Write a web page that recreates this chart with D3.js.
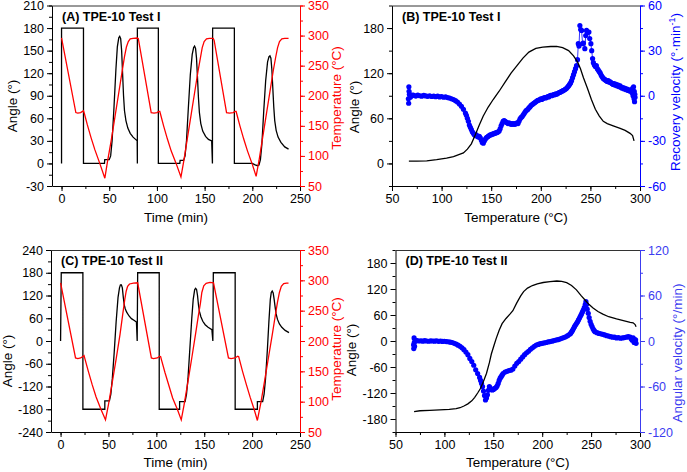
<!DOCTYPE html>
<html><head><meta charset="utf-8">
<script src="https://cdn.jsdelivr.net/npm/d3@7"></script>
<style>
body{margin:0;background:#fff}
svg{display:block}
text{font-family:"Liberation Sans",Arial,sans-serif}
</style>
</head><body>
<svg id="c" width="687" height="472"></svg>
<script>
// ---------- Panel A : angle & temperature vs time (Test I) ----------
const aTimeAngle = [0,0,23,23,45,45.3,50,51.5,53,55,57,58.5,60,61,62,63,64,65,66,67.5,69.5,72,75,78.5,79.3,79.5,79.5,101.5,101.5,124,124.3,128,129.5,131,133,135,137,138.5,139.5,140.5,141.5,142.5,143.5,144.5,146,148,151,154,157.4,158.2,158.4,181.2,181.2,200,203,205.5,207,208.5,210,212,214,216,217.5,218.5,219.5,220.5,221.5,222.5,223.5,225,227,230,234,238];
const aAngle     = [0,180,180,0,0,5,5,10,30,75,125,155,167,169,166,150,120,90,70,57,47,40,35,31,30,0,180,180,0,0,4,4,10,30,75,118,145,154,156,153,140,115,88,68,53,43,36,32,30,0,180,180,0,0,-2,-3,-2,5,25,70,110,135,142,143,140,125,100,75,57,44,35,28,22,19];
const aTimeTemp  = [0,15,17,20,22,23,24,27,31,35,40,45.4,48,52,56,60,63,66,68,70,72,75,79.5,80.5,94,97,100,102,103,104,107,111,115,120,125.2,128,132,136,140,143,145.5,147.5,149.5,152,155,159,160,173,176,180,182,183,184,187,191,195,200,204,207,211,215,219,222,224.5,226.5,228.5,231,234,238];
const aTemp      = [296,172,171,172,174,175,170,152,130,110,88,63,89,125,165,205,235,265,281,290,294.5,295.5,296,295,172,171,172,174,174,168,150,128,108,88,65,90,130,170,210,240,262,280,290,294.5,295.5,295.5,292,172,171,172,174,174,168,150,128,108,86,66,92,132,172,212,242,264,280,290,294.5,295.5,295.5];

// ---------- Panel C : angle & temperature vs time (Test II) ----------
const cTimeAngle = [0,0.7,23.3,23.3,46.2,46.2,51,52.5,54,56,58,60,61.5,62.5,63.5,64.5,65.5,66.5,67.5,69,71.5,74,77,79.2,80,80.5,103,103,124.3,124.3,130,131.5,133,135,137,138.5,140,141,142,143,144,145,146.5,148.5,151,154,158,159,159.5,182.3,182.3,205.5,205.5,211,212.5,214,216,217.5,219,220,221,222,223,224,225,226.5,228.5,231,234.5,238.5];
const cAngle     = [0,180,180,-180,-180,-158,-158,-140,-100,-30,50,115,140,148,148,140,115,95,85,76,66,59,54,50,0,180,180,-180,-180,-160,-160,-140,-100,-20,60,110,135,139,136,120,95,78,64,52,43,36,30,0,180,180,-180,-180,-160,-160,-140,-100,-20,50,110,128,132,127,110,90,72,57,45,36,28,22];
const cTimeTemp  = [0,15.6,18,21,23.5,24.5,25.5,29,33,37,42,46.9,50,54,58,62,65,67,68.5,70,72,76,80.5,94.8,97,101,103.5,104.5,105.5,109,113,117,122,126,129,133,137,141,144,146,147.5,149.5,152,156,159.7,175.3,178,182,185,186,187,190,194,198,202,205.5,209,213,217,221,224,226.5,228.5,230.5,233,236,238];
const cTemp      = [296,172,171,172,175,176,170,150,128,108,88,70,95,132,170,210,245,268,282,290,294,295.5,296,172,171,172,175,174,168,148,127,106,87,70,95,133,172,212,243,262,280,291,295,296.5,296,172,171,172,175,174,168,150,128,107,88,69,97,134,172,210,240,264,280,290,294.5,295.5,295.5];

// ---------- Panel B : angle & recovery velocity vs temperature (Test I) ----------
const bTempAngle = [67,75,85,95,105,112,118,122,126,130,134,138,142,147,152,158,164,170,176,182,188,195,202,210,216,222,228,233,237,240,243,247,251,255,259,263,267,273,280,285,290,292.5,294];
const bAngle     = [3,3,3.5,5,7,9,12,14,19,26,38,51,63,75,85,96,108,120,130,140,148,153,154.7,155.5,155.6,154,150,143,135,126,114,100,85,72,63,56,53,50,46.5,44,40,37,30];
const bTempVel = [66.5,66.8,67,67.2,67.5,68,68.5,69,70,71,72,74,76,78,80,82,84,86,88,90,92,94,96,98,100,102,104,106,108,110,112,114,116,118,120,122,124,125,126,127,128,129,130,131,132,133,134,135,136,137,138,139,140,141,142,143,144,145,146,147,148,149,150,151,152,153,154,155,156,157,158,159,160,161,162,163,164,165,166,167,168,169,170,171,172,173,174,175,176,177,178,179,180,181,182,183,184,185,186,187,188,189,190,191,192,193,194,195,196,197,198,199,200,201,202,203,204,205,206,207,208,209,210,211,212,213,214,215,216,217,218,219,220,221,222,223,224,225,226,227,228,229,230,231,232,233,234,235,236,237,237.8,238.5,239.4,240.2,241.1,242.1,243,244.4,245.3,246.1,247,248.5,249.3,250.5,251.3,252.2,253,254,255,256,257,258,259,260,261,262,263,264,265,266,267,268,269,270,271,272,273,274,275,276,277,278,279,280,281,282,283,284,285,286,287,288,289,290,291,292,292.5,293,293.5,294,294.2,294.5,294.8,295];
const bVel     = [-2,-5,6,3,1,0.5,-1,0.5,0,0.5,0.3,-0.2,0.4,0,-0.3,0.2,-0.1,-0.4,0,-0.5,-0.2,-0.6,-0.3,-0.8,-0.5,-1,-0.7,-1.2,-1.5,-2,-2.5,-3.3,-4.2,-5.5,-7,-9,-11.5,-13,-15,-17,-19.5,-21,-22.5,-24,-25,-26,-26.5,-26,-27,-27.5,-27,-28,-29.5,-31,-31.5,-30,-29,-28,-27.5,-27,-26.5,-26,-26,-25.5,-25.5,-25,-25,-24.5,-24.5,-24,-23.5,-22,-20,-18.5,-17,-16.5,-17,-17.5,-18,-18.5,-18,-18.5,-19,-18.5,-19,-18.5,-19,-18.5,-18,-18.5,-17,-15.5,-14.5,-14,-13,-12,-11,-10,-9.5,-9,-8,-7.5,-6.5,-6,-5.5,-5,-4.5,-4,-3.5,-3,-3,-2.5,-2,-2.5,-1.8,-1.5,-1.2,-1.5,-1,-0.5,-0.8,0,0.3,0,0.5,0.8,0.6,1.2,1,1.5,2,2.2,2.5,3,3.2,3.6,4,4.5,5,5.8,6.5,7.5,8.5,10,12,14,16,18,20,24,34.6,33,46.7,44,43.4,34.6,35,31.3,40,43.4,42,42.3,38,34.6,30,24.7,22,20.5,19.5,20,18,17,16,15,13.5,12.5,11.5,11,10.5,10,9.5,10,9,9.2,8.5,8,7.5,8,7,7.5,6.5,7,6,6.5,5.5,5,5.5,4.5,5,4,4.5,3.5,4,3,3.5,2,5,0,6,-2,3,-4,1,-1];

// ---------- Panel D : angle & angular velocity vs temperature (Test II) ----------
const dTempAngle = [69,75,85,95,105,112,116,120,124,128,131,134,137,140,143,146,148,151,153,156,159,163,167,170,174,178,181,185,190,195,201,208,215,220,225,230,235,240,244,248,252,257,262,268,276,283,290,293,295,296];
const dAngle     = [-163,-161,-160,-159,-158,-156,-154,-150,-145,-138,-130,-120,-109,-93,-75,-50,-30,-8,6,25,40,52,62,70,88,104,114,122,128,132,135,137,138.5,137.5,134.5,128,118,104,94,84,76,68,62,56,51,47,43,42,38,33];
const dTempVel = [68.5,68.7,69,69.2,69.5,70,71,72,74,76,78,80,82,84,86,88,90,92,94,96,98,100,102,104,106,108,110,112,114,116,118,120,122,124,126,128,130,132,134,136,137,138,139,140,141,142,143,144,145,146,147,148,149,150,151,152,153,154,155,156,157,158,159,160,162,164,166,168,170,172,174,176,178,180,182,184,186,188,190,192,194,196,198,200,202,204,206,208,210,212,214,216,218,220,222,224,226,228,229,230,231,232,233,234,235,236,237,238,239,240,241,242,243,244,244.7,245.3,246,247.1,248,249,250,251,252,253,254,256,258,260,262,264,266,268,270,272,274,276,278,280,282,284,286,288,290,291,292,293,294,294.5,295,295.5,296];
const dVel     = [-5,-10,4,-2,-7,0,0.5,0.5,0,0.3,-0.2,0.4,0,-0.3,0.2,0,-0.2,0.3,-0.4,0,-0.5,-0.3,-0.8,-1,-1.5,-2,-3,-4,-5.5,-7,-9,-11.5,-14.5,-18,-23,-27,-32,-38,-43,-48,-52,-56,-60,-66,-72,-77.8,-75,-71,-65,-60,-62,-64,-64.6,-64,-63,-62,-61,-59,-56,-52,-49,-47,-45,-43,-41,-40,-39,-38.5,-37,-33,-29.5,-27,-24,-21,-18,-15.5,-13.5,-11,-9,-7,-5.3,-4.5,-3.5,-3,-2.5,-2,-1.2,-0.8,-0.2,0.5,1.2,1.8,2.5,3.5,4.5,5.5,7,8.8,10,12,14,16.5,18.9,21,23,25,27.5,29.9,32.5,35,38,40.9,44,48,51.8,48,42,36.5,31,26,22,19,16,14,12.3,11,10,9.5,8.8,8,7,6.5,5.7,5,5,4,4.5,3.6,4,4.5,5,5.7,5,3,1,4,-2,2,-1,1.5,-3];

// ---------- Tick values ----------
const timeTicks   = [0,50,100,150,200,250];
const aAngleTicks = [-30,0,30,60,90,120,150,180,210];
const cAngleTicks = [-240,-180,-120,-60,0,60,120,180,240];
const tempTicks   = [50,100,150,200,250,300,350];
const tempXTicks  = [50,100,150,200,250,300];
const bAngleTicks = [0,60,120,180];
const bVelTicks   = [-60,-30,0,30,60];
const dAngleTicks = [-180,-120,-60,0,60,120,180];
const dVelTicks   = [-120,-60,0,60,120];

const svg = d3.select('#c');
const fmt = d => String(d);

function range(a,b,s){const r=[];for(let v=a;v<=b+1e-9;v+=s)r.push(+v.toFixed(6));return r;}

function panel(o){
  const g = svg.append('g');
  const x = d3.scaleLinear().domain(o.xDom).range([o.l,o.r]);
  const yl = d3.scaleLinear().domain(o.ylDom).range([o.b,o.t]);
  const yr = d3.scaleLinear().domain(o.yrDom).range([o.b,o.t]);
  const clipId = 'clip'+o.id;
  g.append('clipPath').attr('id',clipId).append('rect')
    .attr('x',o.l).attr('y',o.t).attr('width',o.r-o.l).attr('height',o.b-o.t);

  function axis(gen, scale, major, minor, transform, color){
    const gm = g.append('g').attr('transform',transform)
      .call(gen(scale).tickValues(minor).tickSize(3).tickFormat('').tickSizeOuter(0));
    gm.select('.domain').remove();
    gm.selectAll('line').attr('stroke',color);
    const ga = g.append('g').attr('transform',transform)
      .call(gen(scale).tickValues(major).tickSize(5).tickPadding(3).tickFormat(fmt).tickSizeOuter(0));
    ga.select('.domain').attr('stroke',color);
    ga.selectAll('line').attr('stroke',color);
    ga.selectAll('text').attr('fill',color).style('font-size','12.5px').style('font-family','"Liberation Sans",Arial,sans-serif');
    return ga;
  }
  axis(d3.axisBottom, x, o.xTicks, o.xMinor, `translate(0,${o.b})`, '#000');
  axis(d3.axisLeft, yl, o.ylTicks, o.ylMinor, `translate(${o.l},0)`, '#000');
  axis(d3.axisRight, yr, o.yrTicks, o.yrMinor, `translate(${o.r},0)`, o.rColor);
  g.append('line').attr('x1',o.l).attr('x2',o.r).attr('y1',o.t+0.5).attr('y2',o.t+0.5).attr('stroke','#333');

  const plot = g.append('g').attr('clip-path',`url(#${clipId})`);
  o.draw(plot, x, yl, yr);

  // labels
  g.append('text').attr('x',o.l+10).attr('y',o.t+15).style('font-weight','bold').style('font-size','12.5px').text(o.title);
  g.append('text').attr('x',(o.l+o.r)/2).attr('y',o.xLabY).attr('text-anchor','middle').style('font-size','13.5px').text(o.xLab);
  g.append('text').attr('transform',`translate(${o.ylLabX},${o.ylLabCY}) rotate(-90)`).attr('text-anchor','middle').style('font-size','13.5px').text(o.ylLab);
  const rt = g.append('text').attr('transform',`translate(${o.yrLabX},${o.yrLabCY}) rotate(-90)`).attr('text-anchor','middle').attr('fill',o.rColor).style('font-size','13.5px');
  o.yrLab(rt);
}

function lineOf(xs, ys, x, y){
  return d3.line().x((d,i)=>x(xs[i])).y((d,i)=>y(ys[i]))(xs);
}

panel({
  id:'A', l:52, r:300, t:5.5, b:186,
  xDom:[-10,250], ylDom:[-30,210], yrDom:[50,350],
  xTicks:timeTicks, xMinor:range(0,250,25),
  ylTicks:aAngleTicks, ylMinor:range(-30,210,15),
  yrTicks:tempTicks, yrMinor:range(50,350,25),
  rColor:'#ff0000',
  title:'(A) TPE-10 Test I', xLab:'Time (min)', xLabY:222,
  ylLab:'Angle (°)', ylLabX:17, ylLabCY:106,
  yrLabX:341, yrLabCY:98, yrLab:t=>t.text('Temperature (°C)'),
  draw:(p,x,yl,yr)=>{
    p.append('path').attr('d',lineOf(aTimeAngle,aAngle,x,yl)).attr('fill','none').attr('stroke','#000').attr('stroke-width',1.3);
    p.append('path').attr('d',lineOf(aTimeTemp,aTemp,x,yr)).attr('fill','none').attr('stroke','#ff0000').attr('stroke-width',1.3);
  }
});

panel({
  id:'C', l:51, r:300, t:250, b:432,
  xDom:[-10,250], ylDom:[-240,240], yrDom:[50,350],
  xTicks:timeTicks, xMinor:range(0,250,25),
  ylTicks:cAngleTicks, ylMinor:range(-240,240,30),
  yrTicks:tempTicks, yrMinor:range(50,350,25),
  rColor:'#ff0000',
  title:'(C) TPE-10 Test II', xLab:'Time (min)', xLabY:467,
  ylLab:'Angle (°)', ylLabX:12, ylLabCY:361,
  yrLabX:341, yrLabCY:349, yrLab:t=>t.text('Temperature (°C)'),
  draw:(p,x,yl,yr)=>{
    p.append('path').attr('d',lineOf(cTimeAngle,cAngle,x,yl)).attr('fill','none').attr('stroke','#000').attr('stroke-width',1.3);
    p.append('path').attr('d',lineOf(cTimeTemp,cTemp,x,yr)).attr('fill','none').attr('stroke','#ff0000').attr('stroke-width',1.3);
  }
});

panel({
  id:'B', l:392, r:640, t:5.5, b:186,
  xDom:[50,300], ylDom:[-30,210], yrDom:[-60,60],
  xTicks:tempXTicks, xMinor:range(50,300,25),
  ylTicks:bAngleTicks, ylMinor:range(-30,210,30),
  yrTicks:bVelTicks, yrMinor:range(-60,60,15),
  rColor:'#0000ff',
  title:'(B) TPE-10 Test I', xLab:'Temperature (°C)', xLabY:222,
  ylLab:'Angle (°)', ylLabX:359, ylLabCY:107,
  yrLabX:680, yrLabCY:92,
  yrLab:t=>{t.append('tspan').text('Recovery velocity (°·min');t.append('tspan').attr('dy',-5).style('font-size','9px').text('-1');t.append('tspan').attr('dy',5).text(')');},
  draw:(p,x,yl,yr)=>{
    p.append('path').attr('d',lineOf(bTempVel,bVel,x,yr)).attr('fill','none').attr('stroke','#0000ff').attr('stroke-width',0.8);
    p.selectAll('circle').data(bTempVel).join('circle').attr('cx',d=>x(d)).attr('cy',(d,i)=>yr(bVel[i])).attr('r',2.6).attr('fill','#0000ff');
    p.append('path').attr('d',lineOf(bTempAngle,bAngle,x,yl)).attr('fill','none').attr('stroke','#000').attr('stroke-width',1.3);
  }
});

panel({
  id:'D', l:395.5, r:640, t:250, b:432,
  xDom:[50,300], ylDom:[-210,210], yrDom:[-120,120],
  xTicks:tempXTicks, xMinor:range(50,300,25),
  ylTicks:dAngleTicks, ylMinor:range(-210,210,30),
  yrTicks:dVelTicks, yrMinor:range(-120,120,30),
  rColor:'#3c3cf0',
  title:'(D) TPE-10 Test II', xLab:'Temperature (°C)', xLabY:467,
  ylLab:'Angle (°)', ylLabX:356, ylLabCY:350,
  yrLabX:682, yrLabCY:353, yrLab:t=>t.text('Angular velocity (°/min)'),
  draw:(p,x,yl,yr)=>{
    p.append('path').attr('d',lineOf(dTempVel,dVel,x,yr)).attr('fill','none').attr('stroke','#0000ff').attr('stroke-width',0.8);
    p.selectAll('circle').data(dTempVel).join('circle').attr('cx',d=>x(d)).attr('cy',(d,i)=>yr(dVel[i])).attr('r',2.6).attr('fill','#0000ff');
    p.append('path').attr('d',lineOf(dTempAngle,dAngle,x,yl)).attr('fill','none').attr('stroke','#000').attr('stroke-width',1.3);
  }
});
</script>
</body></html>
